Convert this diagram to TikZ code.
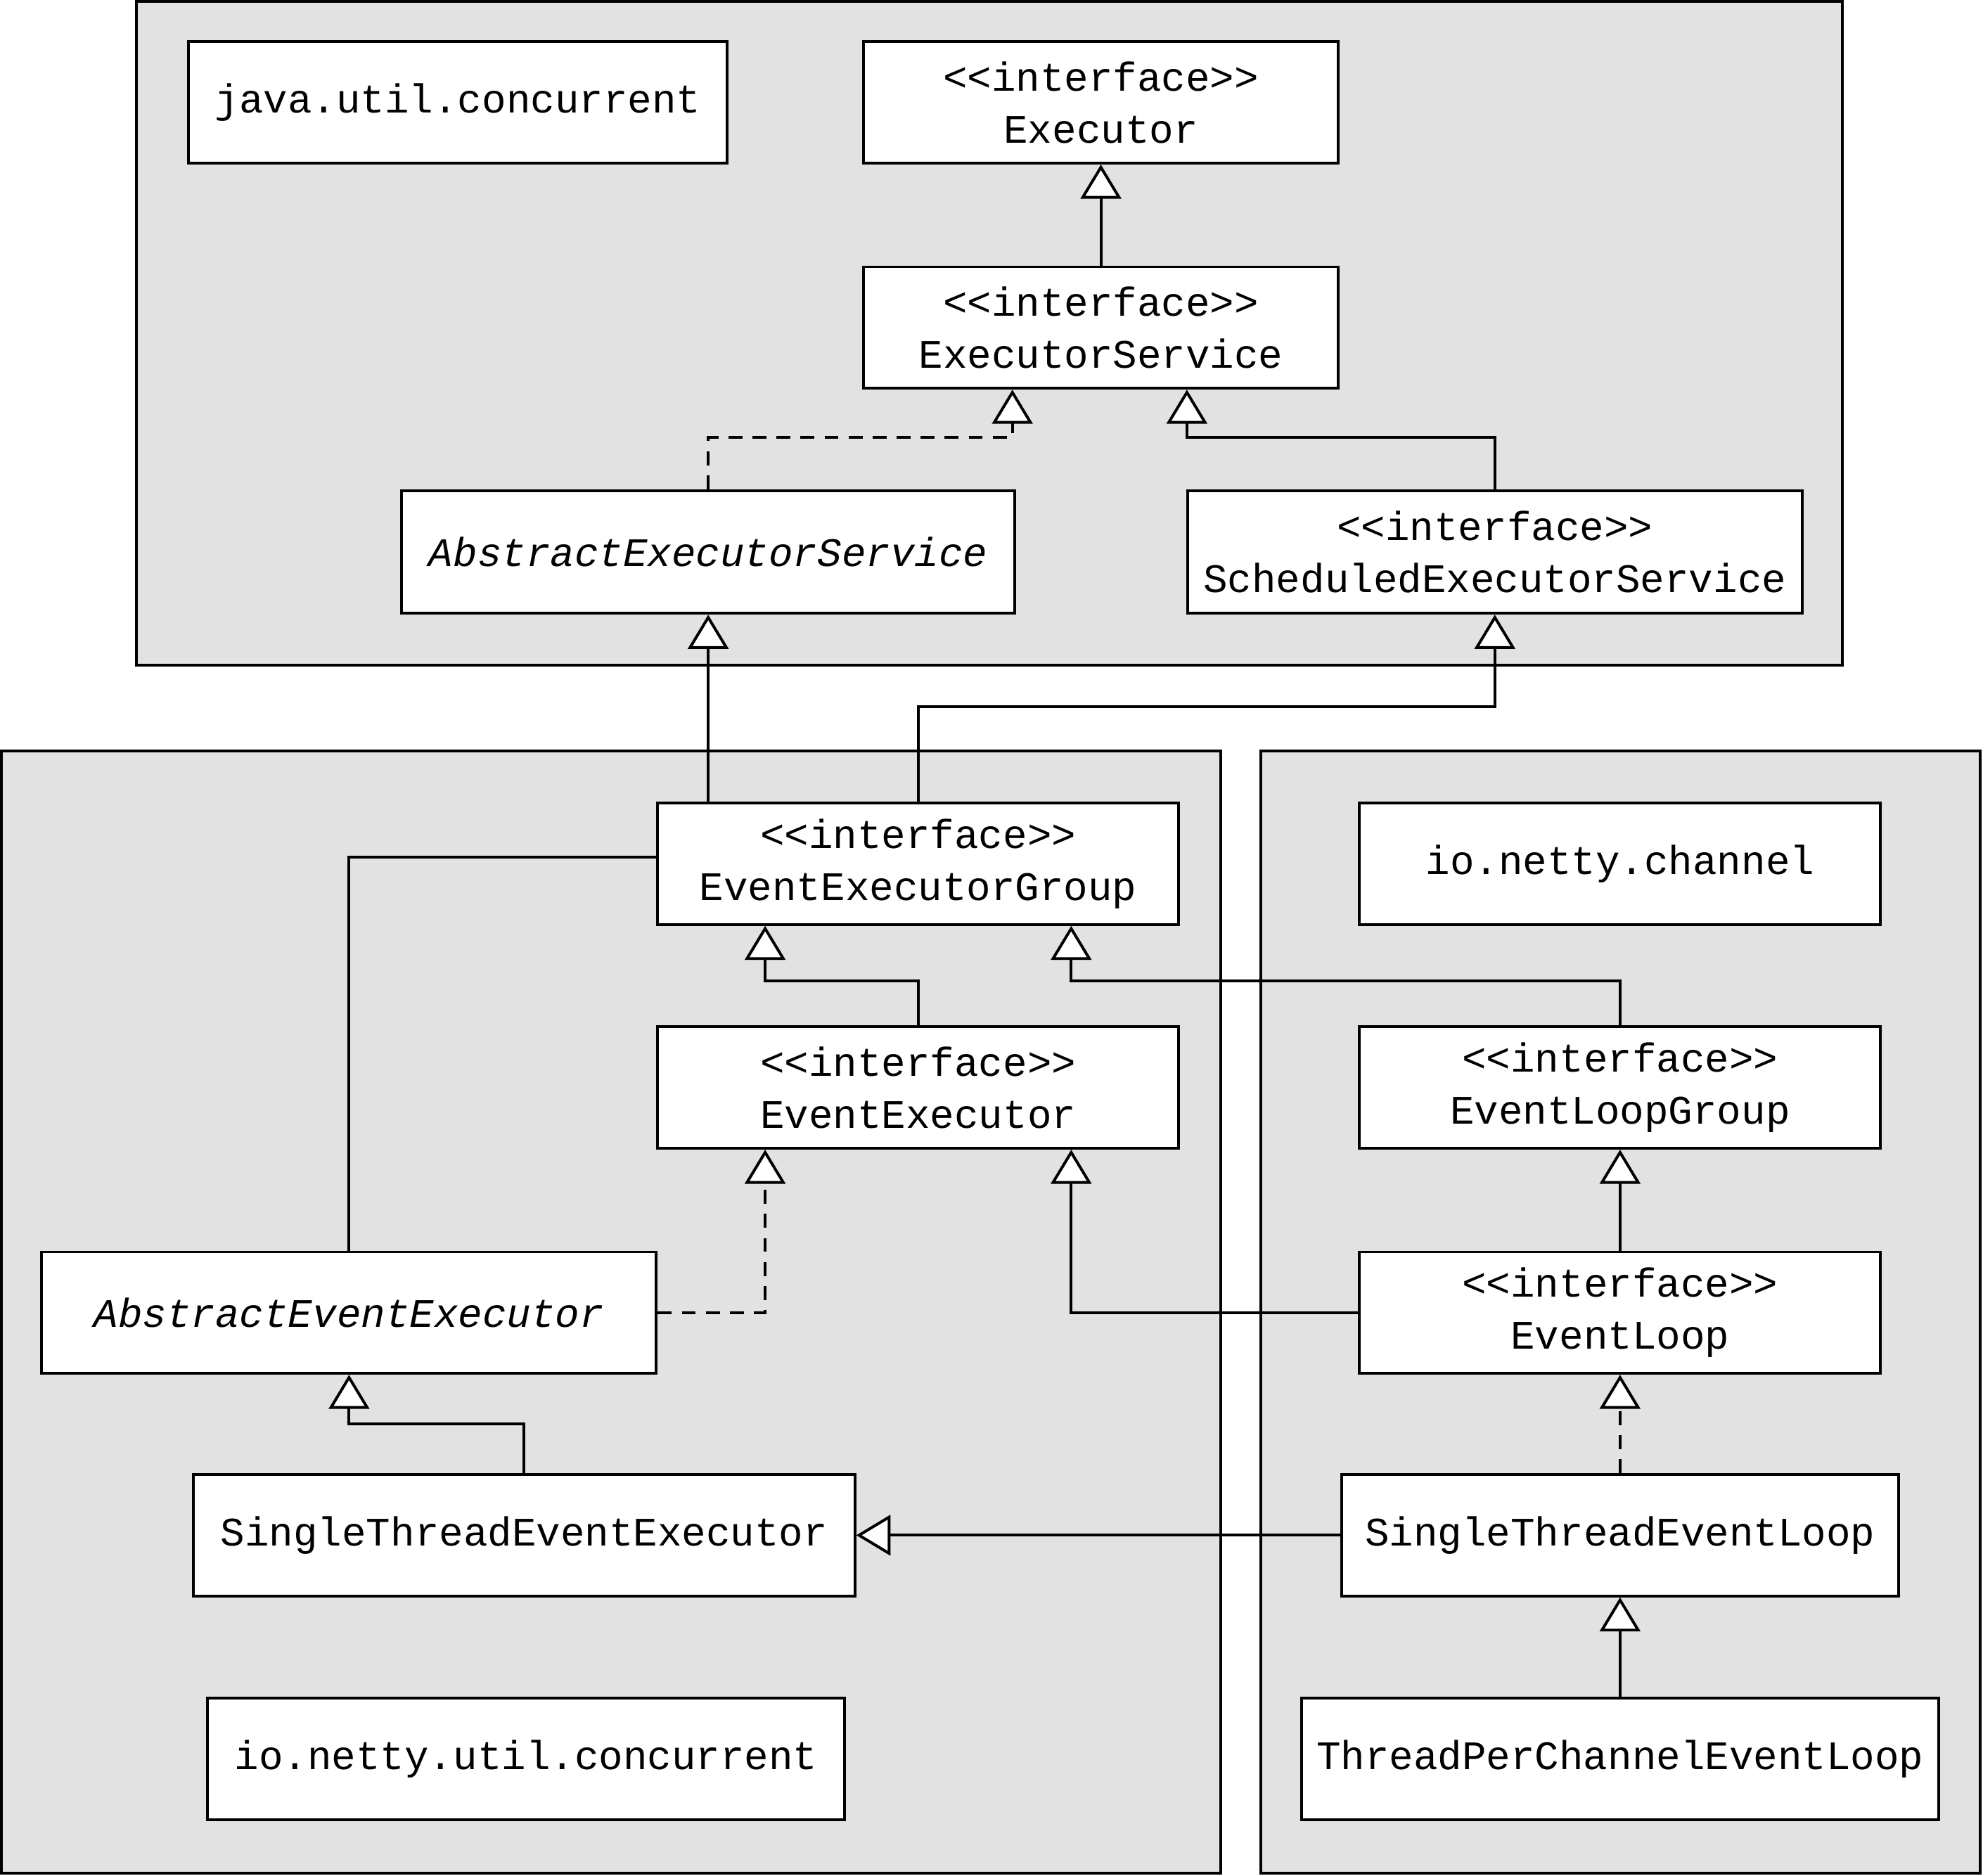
\documentclass[tikz,border=0pt]{standalone}
\usepackage{fontspec}
\newfontfamily\umlmono{Liberation Mono}
\usetikzlibrary{arrows.meta}
\definecolor{pkggray}{HTML}{E2E2E2}
\tikzset{
  cls/.style={draw, fill=white, line width=2.2pt, inner sep=0pt, align=center,
    font=\umlmono\fontsize{32}{41}\selectfont},
  pkg/.style={draw, fill=pkggray, line width=2.2pt},
  conn/.style={line width=2.2pt, line join=miter},
  inh/.style={conn, -{Triangle[length=27pt,width=32pt,fill=white,line join=miter]}},
  realize/.style={inh, dash pattern=on 11pt off 8pt},
}
\begin{document}
\begin{tikzpicture}[x=1pt,y=-1pt]
\useasboundingbox (0,0) rectangle (1568,1483);
% packages
\draw[pkg] (108,1.1) rectangle (1457,526);
\draw[pkg] (1.1,594) rectangle (965,1481);
\draw[pkg] (997,594) rectangle (1566,1481);
% classes
\node[cls, minimum width=426pt, minimum height=96pt] (juc) at (362,81) {java.util.concurrent};
\node[cls, minimum width=375pt, minimum height=96pt] (exec) at (870.5,81) {<{}<interface>{}>\\Executor};
\node[cls, minimum width=375pt, minimum height=96pt] (es) at (870.5,259) {<{}<interface>{}>\\ExecutorService};
\node[cls, minimum width=485pt, minimum height=97pt] (aes) at (560,436.5) {\itshape AbstractExecutorService};
\node[cls, minimum width=486pt, minimum height=97pt] (ses) at (1182,436.5) {<{}<interface>{}>\\ScheduledExecutorService};
\node[cls, minimum width=412pt, minimum height=96pt] (eeg) at (726,683) {<{}<interface>{}>\\EventExecutorGroup};
\node[cls, minimum width=412pt, minimum height=96pt] (inc) at (1281,683) {io.netty.channel};
\node[cls, minimum width=412pt, minimum height=96pt] (ee) at (726,860) {<{}<interface>{}>\\EventExecutor};
\node[cls, minimum width=412pt, minimum height=96pt] (elg) at (1281,860) {<{}<interface>{}>\\EventLoopGroup};
\node[cls, minimum width=486pt, minimum height=96pt] (aee) at (276,1038) {\itshape AbstractEventExecutor};
\node[cls, minimum width=412pt, minimum height=96pt] (el) at (1281,1038) {<{}<interface>{}>\\EventLoop};
\node[cls, minimum width=523pt, minimum height=96pt] (stee) at (414.5,1214) {SingleThreadEventExecutor};
\node[cls, minimum width=440pt, minimum height=96pt] (stel) at (1281,1214) {SingleThreadEventLoop};
\node[cls, minimum width=504pt, minimum height=96pt] (inuc) at (416,1391) {io.netty.util.concurrent};
\node[cls, minimum width=504pt, minimum height=96pt] (tpcel) at (1281,1391) {ThreadPerChannelEventLoop};
% connectors
\draw[inh] (es.north) -- (exec.south);
\draw[realize] (aes.north) -- ++(0,-41) -| ([xshift=-70pt]es.south);
\draw[inh] (ses.north) -- ++(0,-41) -| ([xshift=68pt]es.south);
\draw[inh] (aes.south |- eeg.north) -- (aes.south);
\draw[inh] (eeg.north) -- ++(0,-75) -| (ses.south);
\draw[inh] (ee.north) -- ++(0,-35) -| ([xshift=-121pt]eeg.south);
\draw[inh] (elg.north) -- ++(0,-35) -| ([xshift=121pt]eeg.south);
\draw[inh] (el.north) -- (elg.south);
\draw[inh] (el.west) -| ([xshift=121pt]ee.south);
\draw[realize] (aee.east) -| ([xshift=-121pt]ee.south);
\draw[conn] (aee.north) |- ([yshift=5pt]eeg.west);
\draw[inh] (stee.north) -- ++(0,-39) -| (aee.south);
\draw[realize] (stel.north) -- (el.south);
\draw[inh] (stel.west) -- (stee.east);
\draw[inh] (tpcel.north) -- (stel.south);
\end{tikzpicture}
\end{document}
